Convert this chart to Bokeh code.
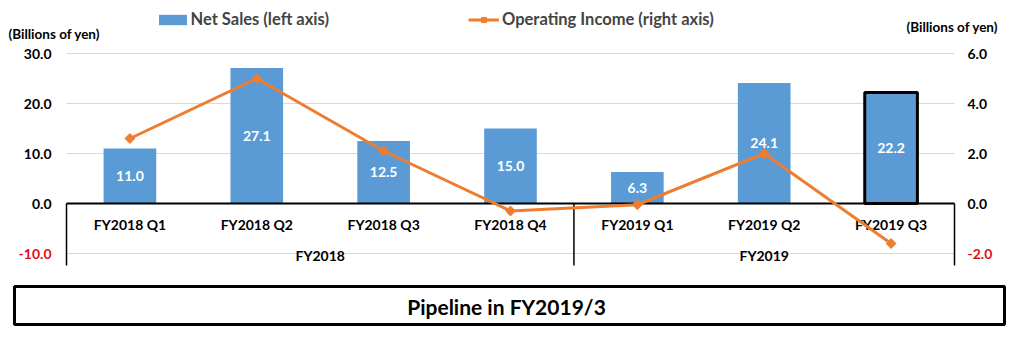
import numpy as np
from bokeh.plotting import figure
from bokeh.models import (ColumnDataSource, FactorRange, Range1d, Legend, LegendItem)
from bokeh.layouts import column
from bokeh.embed import file_html
from bokeh.resources import INLINE
from bokeh.core.properties import value

# ---------------- data ----------------
fiscal_years = ["FY2018", "FY2018", "FY2018", "FY2018", "FY2019", "FY2019", "FY2019"]
quarters = ["FY2018 Q1", "FY2018 Q2", "FY2018 Q3", "FY2018 Q4",
            "FY2019 Q1", "FY2019 Q2", "FY2019 Q3"]
net_sales = [11.0, 27.1, 12.5, 15.0, 6.3, 24.1, 22.2]          # billions of yen (left axis)
operating_income = [2.6, 5.0, 2.1, -0.3, -0.05, 2.0, -1.6]     # billions of yen (right axis)
highlight = [False, False, False, False, False, False, True]
group_names = ["FY2018", "FY2019"]
left_ticks = [-10, 0, 10, 20, 30]
right_ticks = [-2, 0, 2, 4, 6]
sales_label = "Net Sales (left axis)"
income_label = "Operating Income (right axis)"
unit_label = "(Billions of yen)"
banner_text = "Pipeline in FY2019/3"

FONT = "Lato"
BLUE = "#5B9BD5"
ORANGE = "#ED7D31"
RED = "#E0101A"
GRID = "#D9D9D9"

factors = list(zip(fiscal_years, quarters))
n = len(factors)
ratio = 5.0
y_left = Range1d(-13.4, 40.6)
y_right = Range1d(y_left.start / ratio, y_left.end / ratio)

x_range = FactorRange(*factors, factor_padding=0, group_padding=0, subgroup_padding=0,
                      range_padding=0.5203, range_padding_units="absolute")

p = figure(width=1020, height=270, x_range=x_range, y_range=y_left,
           output_backend="svg", toolbar_location=None,
           x_axis_location=None, y_axis_location=None, min_border=0)
p.outline_line_color = None
p.background_fill_color = "white"
p.extra_y_ranges = {"oi": y_right}
p.grid.visible = False

# horizontal gridlines (left-axis ticks), spanning the category area
p.segment(x0=[0] * len(left_ticks), x1=[n] * len(left_ticks), y0=left_ticks, y1=left_ticks,
          line_color=GRID, line_width=1)

src = ColumnDataSource(dict(
    x=factors, sales=net_sales, oi=operating_income,
    lab=[f"{v:.1f}" for v in net_sales],
    mid=[v / 2 for v in net_sales],
    line_alpha=[1.0 if h else 0.0 for h in highlight],
))

r_bar = p.vbar(x="x", top="sales", bottom=0, width=0.415, source=src,
               fill_color=BLUE, line_color="black", line_alpha="line_alpha", line_width=3)

p.text(x="x", y="mid", text="lab", source=src, text_color="white",
       text_font=value(FONT), text_font_style="bold", text_font_size="14px",
       text_align="center", text_baseline="middle")

# zero (category) axis line
p.segment(x0=[0], x1=[n], y0=[0], y1=[0], line_color="black", line_width=2)

# category separators (group boundaries)
counts = [fiscal_years.count(g) for g in group_names]
bounds = [0] + [int(c) for c in np.cumsum(counts)]
p.segment(x0=bounds, x1=bounds, y0=[0] * len(bounds), y1=[-12.4] * len(bounds),
          line_color="black", line_width=1.5)

# category labels
p.text(x=factors, y=[-4.2] * n, text=quarters, text_color="black",
       text_font=value(FONT), text_font_style="bold", text_font_size="14px",
       text_align="center", text_baseline="middle")
p.text(x=group_names, y=[-10.4] * len(group_names), text=group_names, text_color="black",
       text_font=value(FONT), text_font_style="bold", text_font_size="14px",
       text_align="center", text_baseline="middle")

# operating income line
r_line = p.line(x="x", y="oi", y_range_name="oi", source=src, line_color=ORANGE, line_width=3)
r_pts = p.scatter(x="x", y="oi", y_range_name="oi", source=src, marker="square",
                  angle=np.pi / 4, size=7, fill_color=ORANGE, line_color=ORANGE)

# axis tick labels (left: net sales, right: operating income); negatives in red
p.text(x=[0] * len(left_ticks), y=left_ticks, text=[f"{t:.1f}" for t in left_ticks],
       text_color=[RED if t < 0 else "black" for t in left_ticks], x_offset=-15,
       text_font=value(FONT), text_font_style="bold", text_font_size="14px",
       text_align="right", text_baseline="middle")
p.text(x=[n] * len(right_ticks), y=right_ticks, y_range_name="oi",
       text=[f"{t:.1f}" for t in right_ticks],
       text_color=[RED if t < 0 else "black" for t in right_ticks], x_offset=13,
       text_font=value(FONT), text_font_style="bold", text_font_size="14px",
       text_align="left", text_baseline="middle")

# unit labels
p.text(x=[0], y=[34], text=[unit_label], x_offset=-58, text_color="black",
       text_font=value(FONT), text_font_style="bold", text_font_size="13.5px",
       text_align="left", text_baseline="middle")
p.text(x=[n], y=[35.4], text=[unit_label], x_offset=-48, text_color="black",
       text_font=value(FONT), text_font_style="bold", text_font_size="13.5px",
       text_align="left", text_baseline="middle")

# legends
leg_kw = dict(orientation="horizontal", padding=0, margin=0, border_line_alpha=0,
              background_fill_alpha=0, label_text_font=FONT, label_text_font_style="bold",
              label_text_font_size="16.5px", label_height=13, glyph_height=13)
leg1 = Legend(items=[LegendItem(label=sales_label, renderers=[r_bar])],
              location=(154.5, 241), glyph_width=35, label_standoff=1, **leg_kw)
leg2 = Legend(items=[LegendItem(label=income_label, renderers=[r_line, r_pts])],
              location=(468, 241), glyph_width=31, label_standoff=3, **leg_kw)
p.add_layout(leg1)
p.add_layout(leg2)

# ---------------- banner ----------------
p2 = figure(width=1020, height=67, x_range=Range1d(0, 1020), y_range=Range1d(67, 0),
            output_backend="svg", toolbar_location=None,
            x_axis_location=None, y_axis_location=None, min_border=0)
p2.outline_line_color = None
p2.grid.visible = False
p2.quad(left=14, right=1004, top=16, bottom=54, fill_color="white",
        line_color="black", line_width=3)
p2.text(x=[506], y=[36], text=[banner_text], text_color="black",
        text_font=value(FONT), text_font_style="bold", text_font_size="21px",
        text_align="center", text_baseline="middle")

layout = column(p, p2, spacing=0)
open("out.html", "w").write(file_html(layout, INLINE))
